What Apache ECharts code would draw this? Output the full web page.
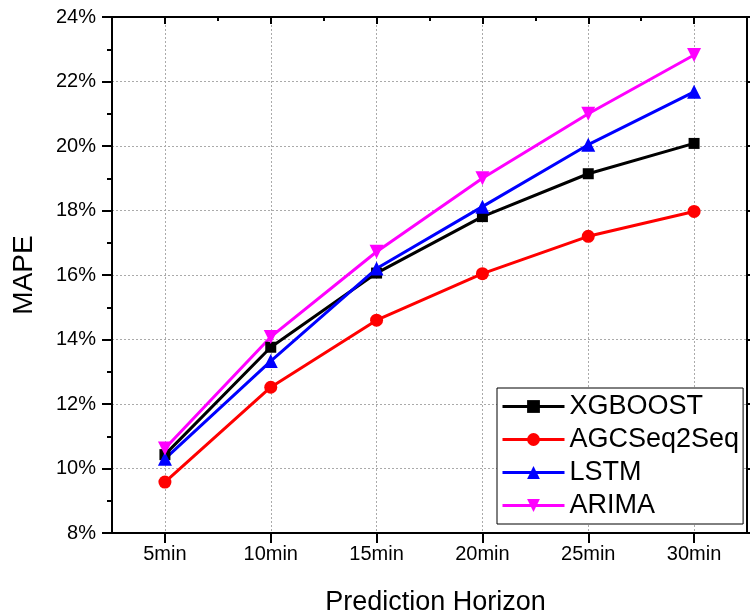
<!DOCTYPE html>
<html>
<head>
<meta charset="utf-8">
<style>
  html, body { margin: 0; padding: 0; background: #fff; }
  #chart { width: 750px; height: 616px; }
</style>
<script src="https://cdn.jsdelivr.net/npm/echarts@6/dist/echarts.min.js"></script>
</head>
<body>
<div id="chart"></div>
<script>
// data (MAPE in %)
const horizons = ["5min", "10min", "15min", "20min", "25min", "30min"];
const xgboost = [10.43, 13.76, 16.06, 17.81, 19.14, 20.08];
const agcSeq2Seq = [9.58, 12.52, 14.6, 16.04, 17.2, 17.97];
const lstm = [10.3, 13.33, 16.2, 18.12, 20.04, 21.68];
const arima = [10.62, 14.08, 16.72, 19.0, 21.0, 22.82];
const yTicks = { min: 8, max: 24, step: 2 };

const font = "Liberation Sans, Arial, sans-serif";
const chart = echarts.init(document.getElementById("chart"));

// half-step slots so the vertical grid lines can sit on the category centres
const gridSlots = [""];
horizons.forEach(function (h) {
  gridSlots.push(h, "");
});

function lineSeries(name, data, color, symbol, size, rotate) {
  return {
    name: name,
    type: "line",
    data: data,
    symbol: symbol,
    symbolSize: size,
    symbolRotate: rotate || 0,
    lineStyle: { color: color, width: 3 },
    itemStyle: { color: color },
  };
}

function gridLine() {
  return { show: true, lineStyle: { color: "#aaa", type: [2, 2], width: 1 } };
}
function blackTick() {
  return { color: "#000", width: 2 };
}

chart.setOption({
  animation: false,
  textStyle: { fontFamily: font },
  grid: { left: 112, right: 3, top: 17, bottom: 83, outerBoundsMode: "none" },
  legend: {
    left: 497,
    top: 388,
    orient: "vertical",
    itemWidth: 62,
    itemHeight: 16,
    itemGap: 6,
    padding: [5, 4, 5, 4],
    backgroundColor: "#fff",
    borderColor: "#000",
    borderWidth: 1,
    borderRadius: 0,
    lineStyle: { width: 3 },
    textStyle: { fontSize: 27, color: "#000", fontFamily: font },
    data: ["XGBOOST", "AGCSeq2Seq", "LSTM", "ARIMA"],
  },
  xAxis: [
    {
      type: "category",
      data: horizons,
      position: "bottom",
      name: "Prediction Horizon",
      nameLocation: "middle",
      nameGap: 56,
      nameTextStyle: { fontSize: 27, color: "#000", padding: [0, 0, 0, 12] },
      axisLine: { show: true, lineStyle: { color: "#000", width: 2 } },
      axisTick: { show: true, alignWithLabel: true, length: 10, lineStyle: blackTick() },
      axisLabel: { fontSize: 20, color: "#000", margin: 11 },
      splitLine: { show: false },
    },
    {
      type: "category",
      data: horizons,
      position: "top",
      axisLine: { show: true, lineStyle: { color: "#000", width: 2 } },
      axisTick: { show: true, alignWithLabel: true, inside: true, length: 7, lineStyle: blackTick() },
      axisLabel: { show: false },
      splitLine: { show: false },
    },
    {
      type: "category",
      data: horizons,
      position: "top",
      axisLine: { show: false },
      axisTick: { show: true, inside: true, length: 4, lineStyle: blackTick() },
      axisLabel: { show: false },
      splitLine: { show: false },
    },
    {
      type: "category",
      data: gridSlots,
      boundaryGap: false,
      position: "bottom",
      axisLine: { show: false },
      axisTick: { show: false },
      axisLabel: { show: false },
      splitLine: Object.assign(gridLine(), {
        interval: function (index) {
          return index % 2 === 1;
        },
      }),
    },
  ],
  yAxis: [
    {
      type: "value",
      min: yTicks.min,
      max: yTicks.max,
      interval: yTicks.step,
      name: "MAPE",
      nameLocation: "middle",
      nameGap: 74,
      nameTextStyle: { fontSize: 28, color: "#000" },
      axisLine: { show: true, lineStyle: { color: "#000", width: 2 } },
      axisTick: { show: true, length: 10, lineStyle: blackTick() },
      minorTick: { show: true, splitNumber: 2, length: 5, lineStyle: blackTick() },
      axisLabel: { fontSize: 20, color: "#000", margin: 16, formatter: "{value}%" },
      splitLine: gridLine(),
    },
    {
      type: "value",
      position: "right",
      min: yTicks.min,
      max: yTicks.max,
      interval: yTicks.step,
      axisLine: { show: true, lineStyle: { color: "#000", width: 2 } },
      axisTick: { show: true, length: 10, lineStyle: blackTick() },
      axisLabel: { show: false },
      splitLine: { show: false },
    },
  ],
  series: [
    lineSeries("XGBOOST", xgboost, "#000000", "rect", 11),
    lineSeries("AGCSeq2Seq", agcSeq2Seq, "#ff0000", "circle", 13),
    lineSeries("LSTM", lstm, "#0000ff", "triangle", 14),
    lineSeries("ARIMA", arima, "#ff00ff", "triangle", 14, 180),
  ],
});
</script>
</body>
</html>
